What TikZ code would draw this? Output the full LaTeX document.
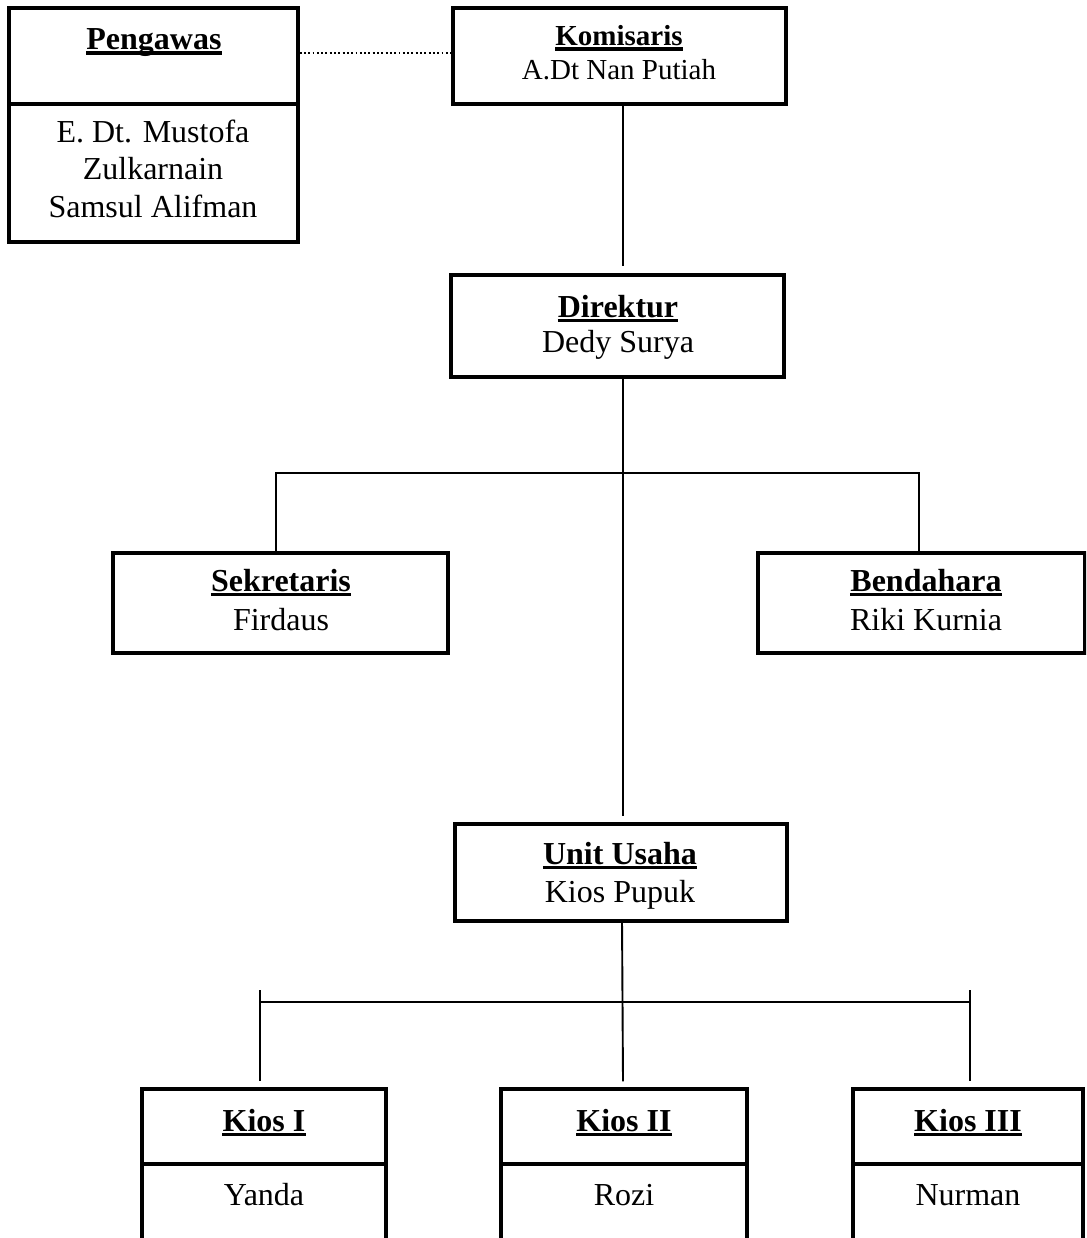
\documentclass[tikz,border=0pt]{standalone}
\usepackage{fontspec}
\setmainfont{Liberation Serif}
\begin{document}
\begin{tikzpicture}[x=1pt,y=-1pt,
  box/.style={draw,line width=3.2pt,rectangle,inner sep=0pt},
  divider/.style={line width=3.2pt},
  conn/.style={line width=1.9pt},
  dotconn/.style={line width=1.9pt,dash pattern=on 1.9pt off 2.4pt},
  txt/.style={inner sep=0pt,anchor=base,font=\fontsize{32}{38}\selectfont},
  btxt/.style={txt,font=\fontsize{32}{38}\selectfont\bfseries},
  stxt/.style={txt,font=\fontsize{29}{34}\selectfont},
  sbtxt/.style={txt,font=\fontsize{29}{34}\selectfont\bfseries},
  ul/.style={line width=3.4pt}]
\useasboundingbox (0,0) rectangle (1086,1238);
\clip (0,0) rectangle (1086,1238);
\fill[white] (0,0) rectangle (1086,1238);

% boxes
\node[box,minimum width=289pt,minimum height=234pt] (peng) at (153.5,125) {};
\node[box,minimum width=333pt,minimum height=96pt] (kom) at (619.5,56) {};
\node[box,minimum width=333pt,minimum height=102pt] (dir) at (617.5,326) {};
\node[box,minimum width=335pt,minimum height=100pt] (sek) at (280.5,603) {};
\node[box,minimum width=327pt,minimum height=100pt] (ben) at (921.5,603) {};
\node[box,minimum width=332pt,minimum height=97pt] (unit) at (621,872.5) {};
\node[box,minimum width=244pt,minimum height=211pt] (k1) at (264,1194.5) {};
\node[box,minimum width=246pt,minimum height=211pt] (k2) at (624,1194.5) {};
\node[box,minimum width=230pt,minimum height=211pt] (k3) at (968,1194.5) {};

% dividers
\draw[divider] (peng.west |- 0,104) -- (peng.east |- 0,104);
\draw[divider] (k1.west |- 0,1164) -- (k1.east |- 0,1164);
\draw[divider] (k2.west |- 0,1164) -- (k2.east |- 0,1164);
\draw[divider] (k3.west |- 0,1164) -- (k3.east |- 0,1164);

% texts
\node[btxt] (tpeng) at (154,50) {Pengawas};
\node[txt] (tp1) at (153,143) {E. Dt. Mustofa};
\node[txt] (tp2) at (153,180) {Zulkarnain};
\node[txt] (tp3) at (153,218) {Samsul Alifman};
\node[sbtxt] (tkom) at (619,46) {Komisaris};
\node[stxt] (tkom2) at (619,80) {A.Dt Nan Putiah};
\node[btxt] (tdir) at (618,317) {Direktur};
\node[txt] (tdir2) at (618,352) {Dedy Surya};
\node[btxt] (tsek) at (281,591) {Sekretaris};
\node[txt] (tsek2) at (281,630) {Firdaus};
\node[btxt] (tben) at (926,591) {Bendahara};
\node[txt] (tben2) at (926,630) {Riki Kurnia};
\node[btxt] (tunit) at (620,864) {Unit Usaha};
\node[txt] (tunit2) at (620,902) {Kios Pupuk};
\node[btxt] (tk1) at (264,1131) {Kios I};
\node[txt] (tk1b) at (264,1205) {Yanda};
\node[btxt] (tk2) at (624,1131) {Kios II};
\node[txt] (tk2b) at (624,1205) {Rozi};
\node[btxt] (tk3) at (968,1131) {Kios III};
\node[txt] (tk3b) at (968,1205) {Nurman};

% underlines
\foreach \t in {tpeng,tdir,tsek,tben,tunit,tk1,tk2,tk3}
  \draw[ul] ([yshift=-3.2pt]\t.base west) -- ([yshift=-3.2pt]\t.base east);
\draw[ul] ([yshift=-3pt]tkom.base west) -- ([yshift=-3pt]tkom.base east);

% connectors
\coordinate (dl) at (0,53);
\draw[dotconn] (peng.east |- dl) -- (kom.west |- dl);
\coordinate (trunk) at (623,0);
\draw[conn] (kom.south -| trunk) -- ([yshift=7pt]dir.north -| trunk);
\coordinate (b1) at (276,473);
\coordinate (b2) at (919,473);
\draw[conn] (dir.south -| trunk) -- ([yshift=6pt]unit.north -| trunk);
\draw[conn] (sek.north -| b1) -- (b1) -- (b2) -- (ben.north -| b2);
\coordinate (c1) at (260,1002);
\coordinate (c3) at (970,1002);
\draw[conn] (c1) -- (c3);
\draw[conn] ([yshift=12pt]c1) -- ([yshift=6pt]k1.north -| c1);
\draw[conn] ([yshift=12pt]c3) -- ([yshift=6pt]k3.north -| c3);
\draw[conn] ([yshift=3pt]unit.south -| 622,0) -- ([yshift=6pt]k2.north -| 623,0);
\end{tikzpicture}
\end{document}
